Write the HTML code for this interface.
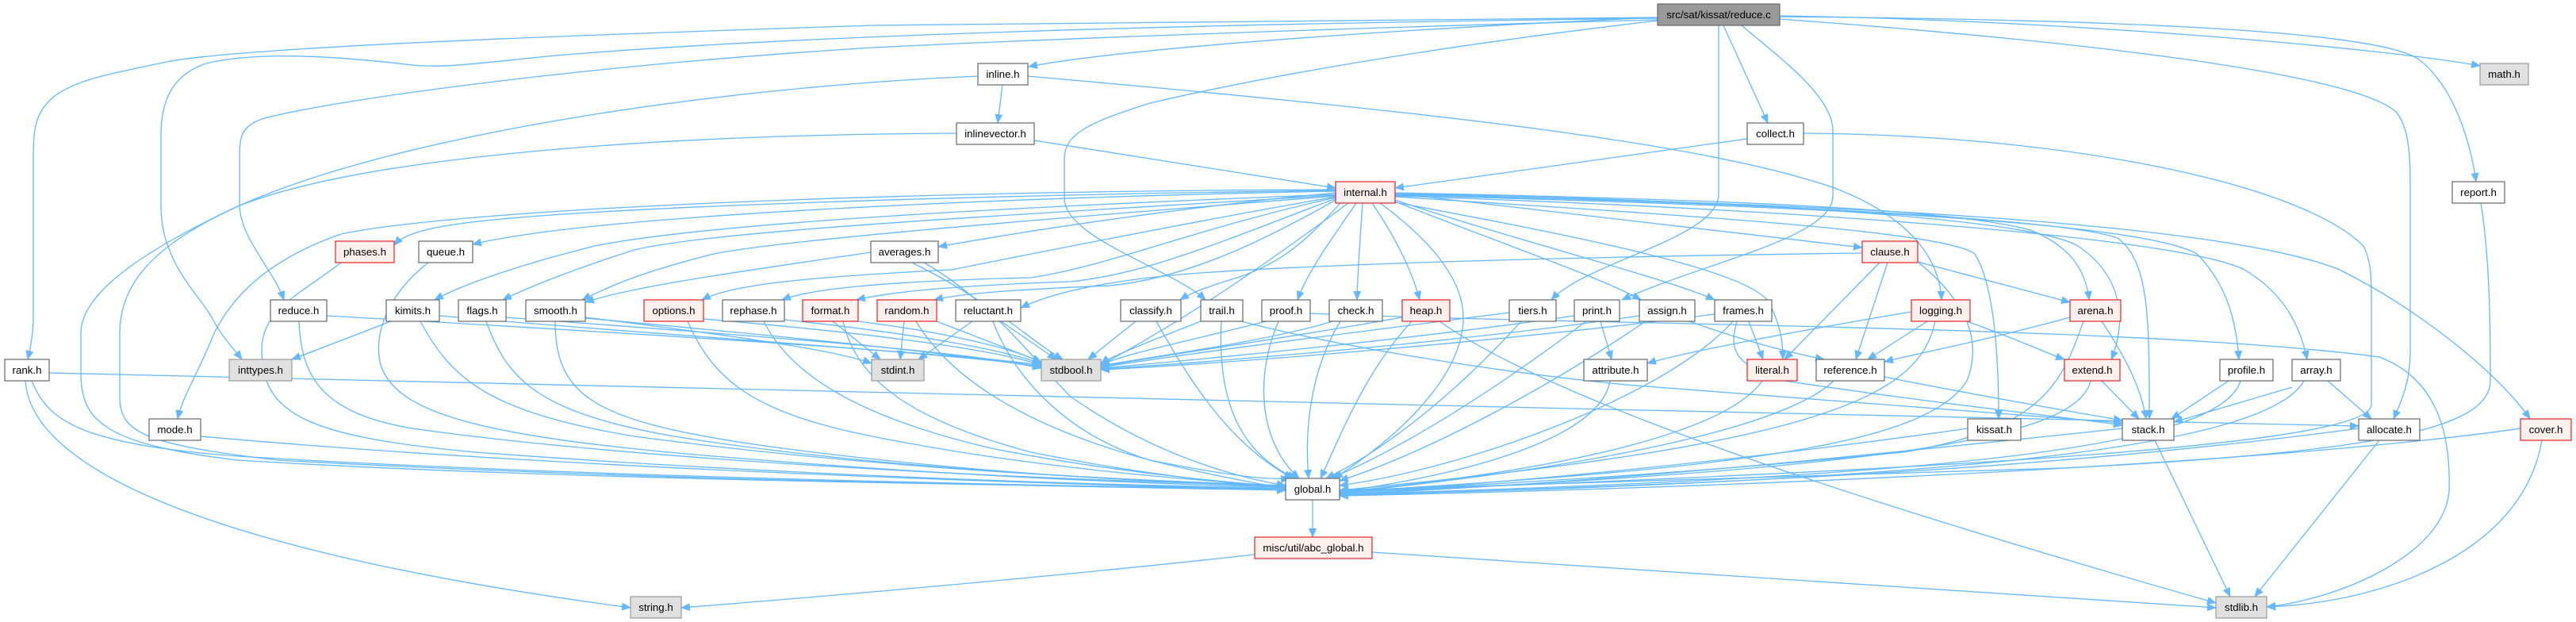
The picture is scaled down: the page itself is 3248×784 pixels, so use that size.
<!DOCTYPE html>
<html><head><meta charset="utf-8"><style>
html,body{margin:0;padding:0;background:#fff;}
svg{display:block;}
.e path{fill:none;stroke:#63b8ff;stroke-width:1.3;marker-end:url(#a);}
.n rect{fill:#fff;stroke:#666;stroke-width:1.2;}
.r rect{fill:#fff0f0;stroke:#e82020;stroke-width:1.2;}
.g rect{fill:#e0e0e0;stroke:#999;stroke-width:1.2;}
.m rect{fill:#999;stroke:#666;stroke-width:1.2;}
text{font-family:"Liberation Sans",Arial,sans-serif;font-size:13.3px;fill:#000;text-anchor:middle;}
</style></head><body>
<svg width="3248" height="784" viewBox="0 0 3248 784" xmlns="http://www.w3.org/2000/svg">
<defs><marker id="a" markerWidth="12" markerHeight="10" refX="11" refY="5" orient="auto" markerUnits="userSpaceOnUse"><path d="M0,0 L12,5 L0,10 z" fill="#63b8ff" stroke="none"/></marker></defs>
<rect width="3248" height="784" fill="#fff"/>
<g class="e">
<!-- main -->
<path d="M2090,22 C1900,30 1450,55 1297,84"/>
<path d="M2244,20 C2600,25 3000,60 3127,83"/>
<path d="M2244,21 C2700,25 3000,40 3050,75 C3095,110 3115,180 3122,229"/>
<path d="M2244,24 C2600,50 2960,90 3020,140 C3039,160 3039,200 3039,250 L3039,440 C3039,480 3030,500 3018,528"/>
<path d="M2173,32 L2229,155"/>
<path d="M2196,32 C2240,70 2311,120 2311,165 L2311,247 C2311,300 2150,330 2045,378"/>
<path d="M2167,32 L2167,245 C2167,300 2000,330 1956,378"/>
<path d="M2090,26 C1800,60 1600,95 1450,130 C1370,155 1342,170 1342,200 L1342,250 C1342,300 1480,340 1520,378"/>
<path d="M2090,25 C1700,35 1300,50 1100,60 C700,85 400,130 330,150 C305,160 302,170 302,200 L302,257 C302,300 345,340 358,378"/>
<path d="M2090,23 C1500,30 1000,45 700,70 C600,80 560,86 520,82 C420,70 320,65 260,80 C215,95 203,130 203,170 L203,260 C203,330 250,370 267,400 C280,425 295,440 305,453"/>
<path d="M2090,22 C1600,25 1300,28 1100,32 C700,45 300,60 210,78 C130,95 100,100 70,120 C45,140 42,160 42,200 L42,400 C42,420 38,440 35,453"/>
<!-- inline.h -->
<path d="M1264,107 L1258,155"/>
<path d="M1233,96 C900,110 500,170 300,260 C150,330 102,380 102,420 L102,470 C102,530 130,560 300,580 C700,605 1300,612 1621,616"/>
<path d="M1296,96 C1800,140 2150,180 2313,237 C2400,270 2445,320 2448,378"/>
<!-- inlinevector -->
<path d="M1304,177 L1684,237"/>
<path d="M1206,168 C800,170 450,200 300,260 C190,310 151,360 151,420 L151,500 C151,545 180,560 350,580 C800,605 1300,612 1621,618"/>
<!-- collect -->
<path d="M2203,175 L1759,237"/>
<path d="M2274,168 C2600,170 2900,230 2980,310 C2990,330 2990,350 2990,380 L2990,510 C2990,560 2500,590 1689,620"/>
<!-- report -->
<path d="M3128,256 C3140,330 3140,420 3140,480 C3140,540 3000,570 2600,590 C2200,605 1900,612 1689,618"/>
<!-- internal -->
<path d="M1684,240 C1300,245 700,260 560,285 C520,292 505,300 497,309"/>
<path d="M1684,241 C1300,248 750,270 596,308"/>
<path d="M1684,239 C1200,240 600,260 430,295 C330,330 290,380 270,420 C250,470 230,500 224,528"/>
<path d="M1684,243 C1500,260 1300,290 1183,311"/>
<path d="M1759,244 C2000,270 2250,300 2348,312"/>
<path d="M1684,245 C1300,260 900,280 750,310 C650,335 580,360 548,378"/>
<path d="M1684,246 C1300,270 900,290 800,315 C720,340 660,365 634,378"/>
<path d="M1684,247 C1400,270 1000,300 900,320 C800,345 760,365 734,378"/>
<path d="M1684,248 C1500,280 1300,320 1200,340 C1000,350 920,360 885,378"/>
<path d="M1684,249 C1500,290 1400,335 1300,350 C1100,355 1020,365 986,378"/>
<path d="M1685,250 C1550,300 1450,345 1350,355 C1200,360 1120,368 1080,378"/>
<path d="M1686,251 C1600,300 1500,350 1400,360 C1280,365 1210,370 1178,378"/>
<path d="M1690,256 C1650,300 1620,330 1560,350 C1520,362 1500,370 1488,378"/>
<path d="M1710,256 C1680,300 1650,340 1636,378"/>
<path d="M1718,256 C1715,300 1712,340 1711,378"/>
<path d="M1730,256 C1760,300 1780,340 1790,378"/>
<path d="M1740,256 C1800,300 1845,350 1845,400 C1845,480 1750,560 1682,603"/>
<path d="M1759,252 C1900,300 2100,350 2162,378"/>
<path d="M1759,254 C1900,310 2020,350 2069,378"/>
<path d="M1759,255 C2000,300 2200,340 2230,380 C2245,410 2248,430 2248,453"/>
<path d="M1759,243 C2100,250 2450,260 2560,290 C2610,310 2630,340 2634,378"/>
<path d="M1759,244 C2100,250 2550,270 2620,310 C2680,350 2680,410 2662,453"/>
<path d="M1759,245 C2200,255 2600,275 2670,300 C2710,330 2710,400 2710,528"/>
<path d="M1759,246 C2300,260 2700,280 2770,320 C2810,360 2820,410 2823,453"/>
<path d="M1759,247 C2300,265 2750,300 2830,340 C2880,370 2900,410 2909,453"/>
<path d="M1759,248 C2100,270 2450,290 2490,320 C2515,360 2520,450 2520,528"/>
<path d="M1759,246 C2300,255 2800,280 2950,340 C3050,390 3150,470 3190,528"/>
<path d="M1700,256 C1600,330 1500,400 1388,460"/>
<!-- averages -->
<path d="M1098,318 C950,340 800,360 738,381"/>
<path d="M1165,331 C1250,380 1300,450 1350,500 C1450,570 1550,600 1621,612"/>
<path d="M1150,331 C1250,380 1300,430 1340,453"/>
<!-- phases, queue -->
<path d="M430,331 C380,370 330,390 330,440 C330,520 380,550 600,570 C1000,600 1400,612 1621,615"/>
<path d="M540,331 C490,370 470,420 480,460 C500,520 600,550 900,575 C1200,600 1450,610 1621,614"/>
<!-- row5 -->
<path d="M377,405 C380,470 400,520 520,540 C800,580 1300,605 1621,612"/>
<path d="M412,398 C800,420 1200,445 1313,460"/>
<path d="M493,405 L368,453"/>
<path d="M530,405 C570,480 620,520 800,550 C1100,590 1400,605 1621,612"/>
<path d="M554,398 C800,420 1200,445 1313,462"/>
<path d="M613,405 C640,480 680,520 850,550 C1100,590 1400,605 1621,612"/>
<path d="M638,400 C900,420 1200,440 1313,463"/>
<path d="M700,405 C700,500 750,530 950,560 C1200,595 1450,608 1621,613"/>
<path d="M738,400 C900,420 1050,440 1099,458"/>
<path d="M738,401 C1000,425 1250,450 1313,464"/>
<path d="M867,405 C900,480 950,520 1100,550 C1300,590 1500,605 1621,613"/>
<path d="M887,402 C1100,420 1250,440 1313,460"/>
<path d="M963,405 C1000,480 1100,530 1250,565 C1400,595 1550,608 1621,614"/>
<path d="M989,403 C1150,420 1260,440 1313,458"/>
<path d="M1063,405 C1080,480 1150,530 1300,570 C1450,600 1560,610 1621,615"/>
<path d="M1050,405 L1110,453"/>
<path d="M1082,405 C1200,420 1280,440 1313,457"/>
<path d="M1140,405 L1135,453"/>
<path d="M1155,405 C1200,480 1300,540 1450,580 C1530,600 1580,608 1621,616"/>
<path d="M1181,405 L1313,456"/>
<path d="M1226,405 L1158,453"/>
<path d="M1262,405 L1332,453"/>
<path d="M1252,405 C1280,480 1350,550 1450,580 C1550,600 1600,605 1626,603"/>
<path d="M2348,319 C2100,322 1700,330 1500,345 C1380,355 1320,372 1287,388"/>
<path d="M1432,405 L1372,453"/>
<path d="M1458,405 C1500,480 1550,560 1630,603"/>
<path d="M1514,405 C1450,430 1400,450 1388,458"/>
<path d="M1540,405 C1535,500 1560,570 1634,603"/>
<path d="M1565,405 C1700,440 1900,470 2050,485 C2300,505 2550,522 2676,533"/>
<path d="M1596,405 C1500,430 1420,445 1388,460"/>
<path d="M1612,405 C1580,480 1590,560 1638,603"/>
<path d="M1652,395 C2000,410 2700,410 3000,450 C3080,480 3090,560 3088,620 C3080,700 2950,755 2858,765"/>
<path d="M1680,405 C1600,430 1450,450 1388,461"/>
<path d="M1690,405 C1650,470 1645,550 1650,603"/>
<path d="M1768,400 C1600,430 1450,450 1388,462"/>
<path d="M1780,405 C1720,470 1690,550 1665,603"/>
<path d="M1815,405 C1950,500 2300,620 2794,760"/>
<path d="M1903,394 C1700,420 1500,445 1388,463"/>
<path d="M1918,405 C1850,480 1760,560 1672,603"/>
<path d="M2018,405 L2032,453"/>
<path d="M1985,398 C1800,425 1550,450 1388,464"/>
<path d="M2000,405 C1900,480 1780,560 1678,603"/>
<path d="M2067,398 C1850,430 1550,455 1388,465"/>
<path d="M2075,405 C1950,490 1800,570 1689,606"/>
<path d="M2130,405 C2200,430 2260,445 2300,453"/>
<path d="M2205,405 L2223,453"/>
<path d="M2190,405 C2180,440 2185,460 2250,480 C2450,510 2600,525 2676,536"/>
<path d="M2185,405 C2100,500 1850,590 1689,612"/>
<path d="M2162,396 C1900,430 1550,458 1388,466"/>
<path d="M2410,393 C2250,420 2120,445 2077,458"/>
<path d="M2430,405 L2355,453"/>
<path d="M2480,405 C2550,430 2580,445 2603,453"/>
<path d="M2440,405 C2420,500 2300,560 1689,618"/>
<path d="M2610,400 C2500,430 2420,445 2376,456"/>
<path d="M2650,405 C2680,450 2700,490 2706,528"/>
<path d="M2627,405 C2600,480 2580,540 2400,570 C2100,600 1850,612 1689,620"/>
<path d="M2418,330 L2610,381"/>
<path d="M2370,331 L2250,453"/>
<path d="M2380,331 L2340,453"/>
<path d="M2418,330 C2480,380 2500,430 2480,480 C2430,560 2200,590 1689,620"/>
<!-- row6 -->
<path d="M2030,480 C2020,540 1900,590 1689,620"/>
<path d="M2222,480 C2180,540 2000,590 1689,620"/>
<path d="M2312,480 C2250,540 2000,590 1689,621"/>
<path d="M2376,475 C2500,500 2620,520 2676,530"/>
<path d="M2650,480 L2697,528"/>
<path d="M2636,480 C2620,550 2400,590 1689,622"/>
<path d="M2810,480 L2738,528"/>
<path d="M2825,480 C2800,560 2500,600 1689,623"/>
<path d="M2890,488 L2741,532"/>
<path d="M2935,480 L2990,528"/>
<path d="M2905,480 C2860,560 2500,605 1689,624"/>
<path d="M40,480 C60,530 100,560 300,575 C700,600 1300,612 1621,617"/>
<path d="M32,480 C40,600 300,700 795,766"/>
<path d="M62,470 C800,490 2000,515 2974,537"/>
<!-- row7 -->
<path d="M253,550 C700,590 1300,610 1621,617"/>
<path d="M2481,540 C2200,580 1900,610 1689,621"/>
<path d="M2676,540 C2300,580 2000,610 1689,623"/>
<path d="M2717,555 L2812,752"/>
<path d="M2974,540 C2600,590 2200,610 1689,624"/>
<path d="M3000,555 L2843,752"/>
<path d="M3178,540 C2900,580 2300,612 1689,625"/>
<path d="M3205,555 C3180,700 3000,760 2858,765"/>
<!-- global -->
<path d="M1655,630 L1655,677"/>
<path d="M1582,699 C1300,730 1000,755 859,766"/>
<path d="M1730,696 C2200,730 2600,755 2794,766"/>
</g>
<!-- nodes -->
<g class="m"><rect x="2090" y="5" width="154" height="27"/><text x="2167" y="23">src/sat/kissat/reduce.c</text></g>
<g class="n"><rect x="1233" y="80" width="63" height="27"/><text x="1264.5" y="98">inline.h</text></g>
<g class="g"><rect x="3127" y="80" width="61" height="27"/><text x="3157.5" y="98">math.h</text></g>
<g class="n"><rect x="1206" y="155" width="98" height="27"/><text x="1255" y="173">inlinevector.h</text></g>
<g class="n"><rect x="2203" y="155" width="71" height="27"/><text x="2238.5" y="173">collect.h</text></g>
<g class="r"><rect x="1684" y="229" width="75" height="27"/><text x="1721.5" y="247">internal.h</text></g>
<g class="n"><rect x="3092" y="229" width="66" height="27"/><text x="3125" y="247">report.h</text></g>
<g class="r"><rect x="423" y="304" width="74" height="27"/><text x="460" y="322">phases.h</text></g>
<g class="n"><rect x="528" y="304" width="68" height="27"/><text x="562" y="322">queue.h</text></g>
<g class="n"><rect x="1098" y="304" width="85" height="27"/><text x="1140.5" y="322">averages.h</text></g>
<g class="r"><rect x="2348" y="304" width="70" height="27"/><text x="2383" y="322">clause.h</text></g>
<g class="n"><rect x="341" y="378" width="71" height="27"/><text x="376.5" y="396">reduce.h</text></g>
<g class="n"><rect x="487" y="378" width="67" height="27"/><text x="520.5" y="396">kimits.h</text></g>
<g class="n"><rect x="578" y="378" width="60" height="27"/><text x="608" y="396">flags.h</text></g>
<g class="n"><rect x="663" y="378" width="75" height="27"/><text x="700.5" y="396">smooth.h</text></g>
<g class="r"><rect x="812" y="378" width="75" height="27"/><text x="849.5" y="396">options.h</text></g>
<g class="n"><rect x="911" y="378" width="78" height="27"/><text x="950" y="396">rephase.h</text></g>
<g class="r"><rect x="1012" y="378" width="70" height="27"/><text x="1047" y="396">format.h</text></g>
<g class="r"><rect x="1106" y="378" width="75" height="27"/><text x="1143.5" y="396">random.h</text></g>
<g class="n"><rect x="1205" y="378" width="82" height="27"/><text x="1246" y="396">reluctant.h</text></g>
<g class="n"><rect x="1413" y="378" width="76" height="27"/><text x="1451" y="396">classify.h</text></g>
<g class="n"><rect x="1514" y="378" width="53" height="27"/><text x="1540.5" y="396">trail.h</text></g>
<g class="n"><rect x="1591" y="378" width="61" height="27"/><text x="1621.5" y="396">proof.h</text></g>
<g class="n"><rect x="1676" y="378" width="67" height="27"/><text x="1709.5" y="396">check.h</text></g>
<g class="r"><rect x="1768" y="378" width="60" height="27"/><text x="1798" y="396">heap.h</text></g>
<g class="n"><rect x="1903" y="378" width="59" height="27"/><text x="1932.5" y="396">tiers.h</text></g>
<g class="n"><rect x="1985" y="378" width="57" height="27"/><text x="2013.5" y="396">print.h</text></g>
<g class="n"><rect x="2067" y="378" width="70" height="27"/><text x="2102" y="396">assign.h</text></g>
<g class="n"><rect x="2162" y="378" width="72" height="27"/><text x="2198" y="396">frames.h</text></g>
<g class="r"><rect x="2410" y="378" width="74" height="27"/><text x="2447" y="396">logging.h</text></g>
<g class="r"><rect x="2610" y="378" width="64" height="27"/><text x="2642" y="396">arena.h</text></g>
<g class="n"><rect x="6" y="453" width="56" height="27"/><text x="34" y="471">rank.h</text></g>
<g class="g"><rect x="289" y="453" width="79" height="27"/><text x="328.5" y="471">inttypes.h</text></g>
<g class="g"><rect x="1099" y="453" width="66" height="27"/><text x="1132" y="471">stdint.h</text></g>
<g class="g"><rect x="1313" y="453" width="75" height="27"/><text x="1350.5" y="471">stdbool.h</text></g>
<g class="n"><rect x="1997" y="453" width="80" height="27"/><text x="2037" y="471">attribute.h</text></g>
<g class="r"><rect x="2203" y="453" width="63" height="27"/><text x="2234.5" y="471">literal.h</text></g>
<g class="n"><rect x="2290" y="453" width="86" height="27"/><text x="2333" y="471">reference.h</text></g>
<g class="r"><rect x="2603" y="453" width="70" height="27"/><text x="2638" y="471">extend.h</text></g>
<g class="n"><rect x="2799" y="453" width="67" height="27"/><text x="2832.5" y="471">profile.h</text></g>
<g class="n"><rect x="2890" y="453" width="61" height="27"/><text x="2920.5" y="471">array.h</text></g>
<g class="n"><rect x="188" y="528" width="65" height="27"/><text x="220.5" y="546">mode.h</text></g>
<g class="n"><rect x="2481" y="528" width="67" height="27"/><text x="2514.5" y="546">kissat.h</text></g>
<g class="n"><rect x="2676" y="528" width="65" height="27"/><text x="2708.5" y="546">stack.h</text></g>
<g class="n"><rect x="2974" y="528" width="77" height="27"/><text x="3012.5" y="546">allocate.h</text></g>
<g class="r"><rect x="3178" y="528" width="64" height="27"/><text x="3210" y="546">cover.h</text></g>
<g class="n"><rect x="1621" y="603" width="68" height="27"/><text x="1655" y="621">global.h</text></g>
<g class="r"><rect x="1582" y="677" width="148" height="27"/><text x="1656" y="695">misc/util/abc_global.h</text></g>
<g class="g"><rect x="795" y="752" width="64" height="27"/><text x="827" y="770">string.h</text></g>
<g class="g"><rect x="2794" y="752" width="64" height="27"/><text x="2826" y="770">stdlib.h</text></g>
</svg>
</body></html>
